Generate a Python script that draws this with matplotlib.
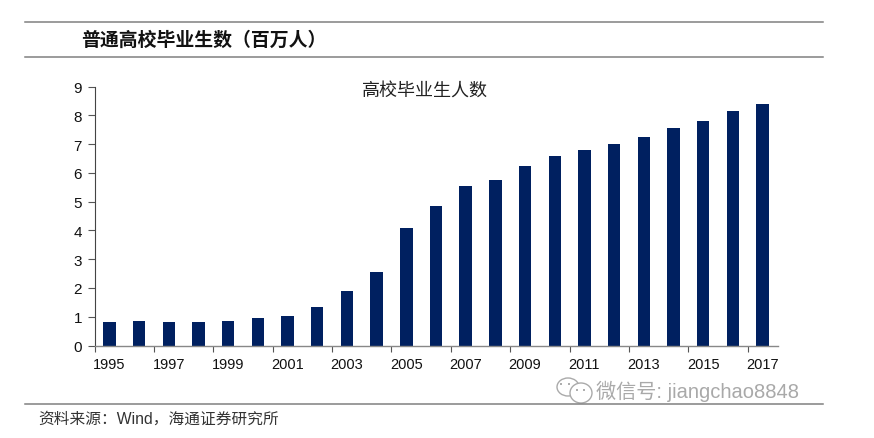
import numpy as np
import matplotlib
matplotlib.use('Agg')
import matplotlib.pyplot as plt
from matplotlib.lines import Line2D
from matplotlib.patches import Ellipse

plt.rcParams['font.family'] = ['Liberation Sans', 'Noto Sans CJK SC', 'DejaVu Sans']

years = list(range(1995, 2018))
graduates = [0.83, 0.85, 0.83, 0.83, 0.85, 0.95, 1.04, 1.34, 1.88, 2.55, 4.07, 4.85,
             5.55, 5.75, 6.25, 6.58, 6.8, 7.0, 7.25, 7.55, 7.8, 8.16, 8.38]
y_ticks = list(range(0, 10))

W, H = 874, 439
fig = plt.figure(figsize=(W / 100, H / 100), dpi=100)
ax = fig.add_axes([94.5 / W, 1 - 346.5 / H, (777.5 - 94.5) / W, (346.5 - 87.5) / H])

x = np.arange(len(years))
ax.bar(x, graduates, width=0.42, color='#002060')
ax.set_xlim(-0.5, len(years) - 0.5)
ax.set_ylim(0, 9)

# tick marks sit between the bars, labels sit under every other bar
ax.set_xticks(x[::2] - 0.5)
ax.set_xticklabels([])
ax.set_xticks(x[::2], [str(years[i]) for i in x[::2]], minor=True)
ax.tick_params(axis='x', which='major', length=4, width=0.8, color='#555555')
ax.tick_params(axis='x', which='minor', length=0, pad=8, labelsize=10.5, labelcolor='#111111')
ax.set_yticks(y_ticks)
ax.tick_params(axis='y', length=5, width=0.8, color='#555555', labelsize=11, pad=4, labelcolor='#111111')

for side in ['top', 'right']:
    ax.spines[side].set_visible(False)
ax.spines['left'].set_color('#444444')
ax.spines['left'].set_linewidth(0.8)
ax.spines['bottom'].set_color('#888888')
ax.spines['bottom'].set_linewidth(1.0)


def fx(px):
    return px / W


def fy(py):
    return 1 - py / H


for py in [22.5, 57.5, 404.5]:
    fig.add_artist(Line2D([fx(25), fx(823)], [fy(py), fy(py)], color='#808080', lw=1.1))

fig.text(fx(424.5), fy(92), '高校毕业生人数', ha='center', va='center', fontsize=13, color='#222222')
fig.text(fx(81), fy(41), '普通高校毕业生数（百万人）', ha='left', va='center', fontsize=13.6,
         color='#111111', fontweight='bold')
fig.text(fx(38), fy(419), '资料来源：Wind，海通证券研究所', ha='left', va='center', fontsize=11.3, color='#333333')

# watermark
fig.text(fx(596), fy(391), '微信号: jiangchao8848', ha='left', va='center', fontsize=14.5,
         color='#9a9a9a', alpha=0.85)
for cx, cy, rx, ry in [(568, 388, 22, 18), (581, 394, 22, 20)]:
    fig.add_artist(Ellipse((fx(cx), fy(cy)), rx / W, ry / H, transform=fig.transFigure,
                           fill=True, fc='white', ec='#aaaaaa', lw=1.0))
for cx, cy in [(561, 385), (569, 385), (577, 391), (584, 391)]:
    fig.add_artist(Ellipse((fx(cx), fy(cy)), 2 / W, 2 / H, transform=fig.transFigure, fc='#999999', ec='none'))

fig.savefig('out.png', dpi=100)
